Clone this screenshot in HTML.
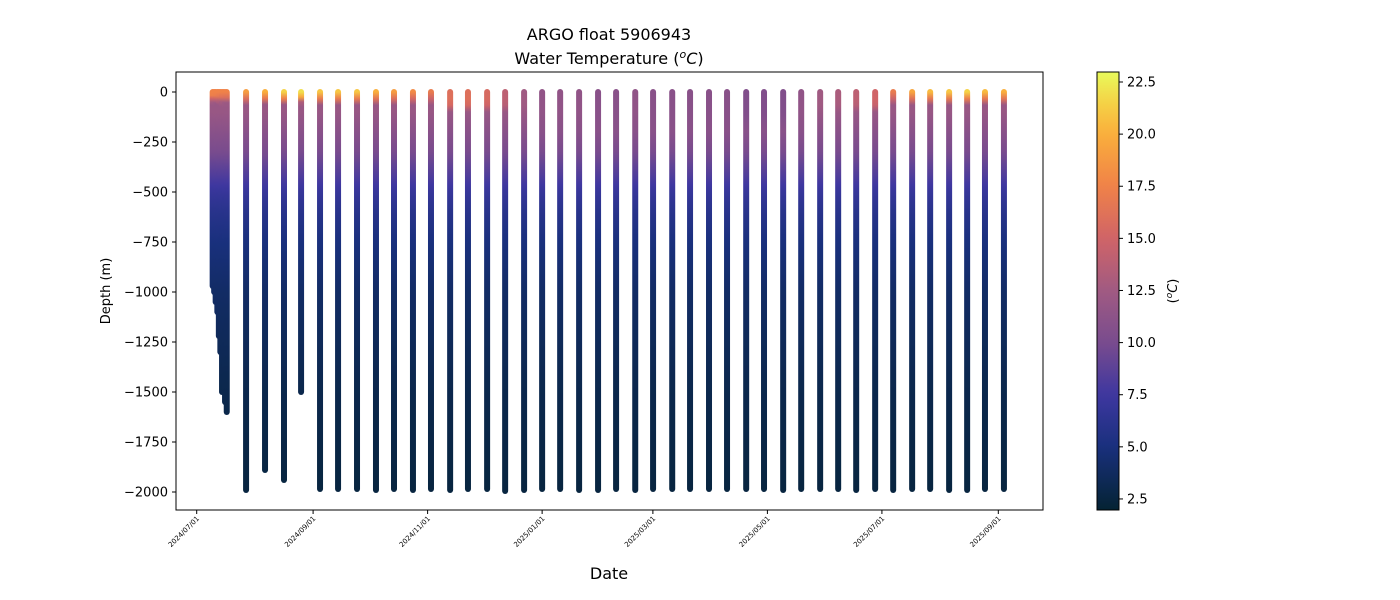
<!DOCTYPE html>
<html><head><meta charset="utf-8"><style>
body{margin:0;background:#fff;}
svg{display:block;font-family:"DejaVu Sans","Liberation Sans",sans-serif;}
</style></head><body>
<svg id="chart" width="1400" height="600" xmlns="http://www.w3.org/2000/svg">
<defs id="defs"></defs>
<text x="609" y="40" font-size="16" text-anchor="middle">ARGO float 5906943</text>
<text x="609" y="64" font-size="16" text-anchor="middle">Water Temperature (<tspan font-style="italic" font-size="11" dy="-6">o</tspan><tspan font-style="italic" dy="6">C</tspan>)</text>
<g id="plot"></g>
<rect x="176" y="72" width="867" height="438" fill="none" stroke="#000" stroke-width="1"/>
<g id="yaxis"></g>
<g id="xaxis"></g>
<text transform="translate(110,291) rotate(-90)" font-size="13" text-anchor="middle">Depth (m)</text>
<text x="609" y="579" font-size="16" text-anchor="middle">Date</text>
<g id="cbar"></g>
<text transform="translate(1177,291) rotate(-90)" font-size="13" text-anchor="middle">(<tspan font-style="italic" font-size="9" dy="-5">o</tspan><tspan font-style="italic" dy="5">C</tspan>)</text>
</svg>
<script>
// ---- data ----
const profileDays = [8.5,9.3,10.1,11.0,11.8,12.6,13.5,14.3,15.1,16.0,
26.3,36.4,46.5,55.6,65.7,75.3,85.4,95.5,105.1,115.2,124.8,135.0,144.5,154.7,164.3,174.4,184.0,193.6,203.7,213.8,223.4,233.6,243.1,253.3,262.8,272.9,282.5,292.7,302.2,312.4,322.0,332.1,341.7,351.3,361.4,371.0,381.1,390.7,400.8,410.4,419.9,430.0];
const maxDepths = [970,1000,1050,1100,1220,1300,1500,1450,1550,1600,
1990,1890,1940,1500,1985,1985,1985,1990,1985,1990,1985,1990,1985,1985,1995,1990,1985,1985,1990,1990,1985,1990,1985,1985,1985,1985,1985,1985,1985,1990,1985,1985,1985,1990,1985,1990,1985,1985,1990,1990,1985,1985];
const surfaceTemps = [17.5,17.5,17.5,17.5,17.5,17.5,17.5,17.5,17.5,17.5,
19,20,21.5,22,21,21,21,20,19,18,17,16,16,15.5,14,12.5,11.5,11.5,11.5,11,11,11.5,11,11,11,11,11,10.5,10.5,10.5,11.5,12.5,13,14,15,17,19.5,20.5,21,21.5,20.5,20];
const refDepths = [100,200,300,400,500,600,750,1000,1500,2000];
const refTemps = [12,11,10,8.5,7,6,5,4,3,2.5];
const yTicks = [0,-250,-500,-750,-1000,-1250,-1500,-1750,-2000];
const xTickLabels = ["2024/07/01","2024/09/01","2024/11/01","2025/01/01","2025/03/01","2025/05/01","2025/07/01","2025/09/01"];
const xTickDays = [0,62,123,184,243,304,365,427];
const cbTicks = [2.5,5.0,7.5,10.0,12.5,15.0,17.5,20.0,22.5];
const tMin = 1.97, tMax = 22.98;
// ---- scales ----
const NS="http://www.w3.org/2000/svg";
const xS = d => 196.7 + 1.8773*d;
const yS = v => 92 - 0.2*v;
const cbY = t => 510 - (t - tMin)/(tMax - tMin)*438;
const stops = [[0,[4,35,51]],[0.144,[25,48,125]],[0.263,[62,55,160]],[0.38,[120,75,142]],[0.5,[160,90,130]],[0.62,[208,100,103]],[0.74,[240,130,72]],[0.858,[250,175,60]],[0.93,[245,210,70]],[1,[232,250,91]]];
function cmap(t){let f=Math.max(0,Math.min(1,(t-tMin)/(tMax-tMin)));
 for(let i=1;i<stops.length;i++){if(f<=stops[i][0]){const a=stops[i-1],b=stops[i],u=(f-a[0])/(b[0]-a[0]);
 return 'rgb('+a[1].map((c,k)=>Math.round(c+(b[1][k]-c)*u)).join(',')+')';}} return 'rgb(232,250,91)';}
function tempAt(z,sst){
 const mld=sst>16?15:60; const t100=Math.min(refTemps[0],sst);
 if(z<=mld) return sst;
 if(z<=100) return sst+(t100-sst)*Math.min(1,(z-mld)/40);
 for(let i=1;i<refDepths.length;i++){ if(z<=refDepths[i]){const a=i-1;const ta=(a===0?t100:refTemps[a]);return ta+(refTemps[i]-ta)*(z-refDepths[a])/(refDepths[i]-refDepths[a]);}}
 return refTemps[refTemps.length-1];}
function el(tag,attrs,parent){const e=document.createElementNS(NS,tag);for(const k in attrs)e.setAttribute(k,attrs[k]);parent.appendChild(e);return e;}
const defs=document.getElementById('defs'), plot=document.getElementById('plot');
profileDays.forEach((d,i)=>{
 const x=xS(d), md=maxDepths[i], sst=surfaceTemps[i];
 const g=el('linearGradient',{id:'g'+i,gradientUnits:'userSpaceOnUse',x1:0,y1:yS(0),x2:0,y2:yS(-md)},defs);
 for(let k=0;k<=60;k++){const z=md*k/60;el('stop',{offset:(k/60).toFixed(3),'stop-color':cmap(tempAt(z,sst))},g);}
 const ln=el('line',{x1:x,y1:yS(0),x2:x,y2:yS(-md),stroke:'url(#g'+i+')','stroke-width':6,'stroke-linecap':'round'},plot);
 
 
});
const ya=document.getElementById('yaxis');
yTicks.forEach(v=>{const y=yS(v);
 const t=el('line',{x1:172,y1:y,x2:176,y2:y,stroke:'#000'},ya);
 
 
 const l=el('text',{x:168,y:y+4.5,'font-size':13,'text-anchor':'end'},ya);l.textContent=String(v).replace('-','\u2212');
 
 });
const xa=document.getElementById('xaxis');
xTickDays.forEach((d,i)=>{const x=xS(d);
 const t=el('line',{x1:x,y1:510,x2:x,y2:514,stroke:'#000'},xa);
 
 
 const l=el('text',{transform:'translate('+(x+3)+',519) rotate(-45)','font-size':7,'text-anchor':'end'},xa);l.textContent=xTickLabels[i];
 
 });
const cb=document.getElementById('cbar');
const cg=el('linearGradient',{id:'cbg',x1:0,y1:1,x2:0,y2:0},defs);
for(let k=0;k<=40;k++){el('stop',{offset:(k/40).toFixed(3),'stop-color':cmap(tMin+(tMax-tMin)*k/40)},cg);}
const cr=el('rect',{x:1097,y:72,width:22,height:438,fill:'url(#cbg)',stroke:'#000','stroke-width':1},cb);


cbTicks.forEach(t=>{const y=cbY(t);
 const tk=el('line',{x1:1119,y1:y,x2:1123,y2:y,stroke:'#000'},cb);
 
 
 const l=el('text',{x:1127,y:y+4.5,'font-size':13},cb);l.textContent=t.toFixed(1);
 
 });
</script>
</body></html>
